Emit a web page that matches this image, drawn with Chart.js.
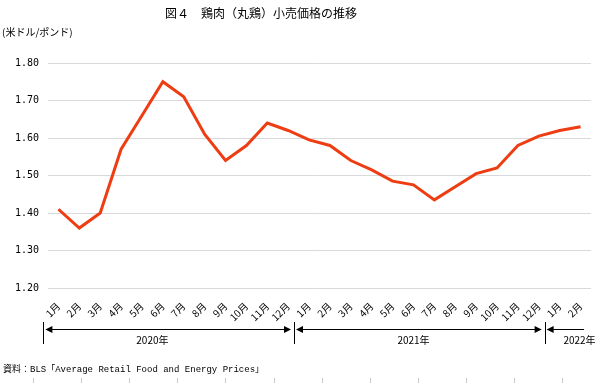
<!DOCTYPE html>
<html lang="ja">
<head>
<meta charset="utf-8">
<title>図4 鶏肉（丸鶏）小売価格の推移</title>
<script src="https://cdn.jsdelivr.net/npm/chart.js@4/dist/chart.umd.min.js"></script>
<style>
  html, body { margin: 0; padding: 0; background: #fff; }
  #wrap { width: 599px; height: 383px; }
</style>
</head>
<body>
<div id="wrap"><canvas id="priceChart" width="599" height="383"></canvas></div>
<script>
// data
var MONTHS = [
  '1月', '2月', '3月', '4月', '5月', '6月', '7月', '8月', '9月', '10月', '11月', '12月',
  '1月', '2月', '3月', '4月', '5月', '6月', '7月', '8月', '9月', '10月', '11月', '12月',
  '1月', '2月',
]
var PRICES = [
  1.41, 1.36, 1.40, 1.57, 1.66, 1.75, 1.71, 1.61, 1.54, 1.58, 1.64, 1.62,
  1.595, 1.58, 1.54, 1.515, 1.485, 1.475, 1.435, 1.47, 1.505, 1.52, 1.58, 1.605,
  1.62, 1.63,
]
var YEARS = ['2020年', '2021年', '2022年']
var YEAR_MONTHS = [12, 12, 2]
var Y_TICKS = [1.2, 1.3, 1.4, 1.5, 1.6, 1.7, 1.8]

var JP = "'Noto Sans CJK JP', sans-serif"
var MONO = "'DejaVu Sans Mono', monospace"

function arrowHead (ctx, x, y, dir) {
  ctx.beginPath()
  ctx.moveTo(x, y)
  ctx.lineTo(x - dir * 7, y - 3.5)
  ctx.lineTo(x - dir * 7, y + 3.5)
  ctx.closePath()
  ctx.fill()
}

// texts and year brackets
var decorations = {
  id: 'decorations',
  afterDraw: function (chart) {
    var ctx = chart.ctx
    var x = chart.scales.x
    var d = x.getPixelForValue(1) - x.getPixelForValue(0)
    var edge = function (i) { return x.getPixelForValue(i) - d * 0.72 }
    ctx.save()
    ctx.fillStyle = '#000'
    ctx.strokeStyle = '#000'
    ctx.textBaseline = 'middle'

    ctx.font = '12px ' + JP
    ctx.textAlign = 'center'
    ctx.fillText('図４　鶏肉（丸鶏）小売価格の推移', 261, 13)

    ctx.font = '10px ' + JP
    ctx.textAlign = 'left'
    ctx.fillText('(米ドル/ポンド)', 2, 32)

    ctx.font = "9px 'Liberation Mono', 'Noto Sans CJK JP', monospace"
    ctx.fillText('資料：BLS「Average Retail Food and Energy Prices」', 3, 370)

    // year brackets
    var labelAt = [4.5, 17, 24.95]
    var arrowY = 329.5
    var start = 0
    ctx.lineWidth = 1
    ctx.font = '10px ' + JP
    ctx.textAlign = 'center'
    YEARS.forEach(function (year, k) {
      var end = start + YEAR_MONTHS[k]
      var left = edge(start)
      var full = end - start === 12
      var right = full ? edge(end) : chart.chartArea.right - 7
      ctx.beginPath()
      ctx.moveTo(Math.round(left) + 0.5, 322)
      ctx.lineTo(Math.round(left) + 0.5, 344)
      if (k === YEARS.length - 1 && full) {
        ctx.moveTo(Math.round(right) + 0.5, 322)
        ctx.lineTo(Math.round(right) + 0.5, 344)
      }
      ctx.moveTo(left + 3, arrowY)
      ctx.lineTo(full ? right - 4 : right, arrowY)
      ctx.stroke()
      arrowHead(ctx, left + 2, arrowY, -1)
      if (full) arrowHead(ctx, right - 3, arrowY, 1)
      ctx.fillText(year, x.getPixelForValue(labelAt[k]), 340)
      start = end
    })

    // faint ticks cut off at the bottom edge
    ctx.strokeStyle = '#c8c8c8'
    ctx.beginPath()
    for (var i = 0; i < 12; i++) {
      var tx = Math.round(33 + i * 48.1) + 0.5
      ctx.moveTo(tx, 378)
      ctx.lineTo(tx, 383)
    }
    ctx.stroke()
    ctx.restore()
  },
}

var ctx = document.getElementById('priceChart').getContext('2d')
window.priceChart = new Chart(ctx, {
  type: 'line',
  data: {
    labels: MONTHS,
    datasets: [
      {
        label: '鶏肉（丸鶏）小売価格',
        data: PRICES,
        borderColor: '#ee3d12',
        backgroundColor: '#ee3d12',
        borderWidth: 3,
        pointRadius: 0,
        tension: 0,
      },
    ],
  },
  options: {
    responsive: false,
    animation: false,
    layout: { padding: { top: 63, right: 8, left: 0, bottom: 0 } },
    plugins: {
      legend: { display: false },
      title: { display: false },
      tooltip: { enabled: false },
    },
    scales: {
      x: {
        offset: true,
        grid: { display: false },
        border: { display: false },
        ticks: {
          color: '#000',
          font: { family: JP, size: 10 },
          maxRotation: 45,
          minRotation: 45,
          autoSkip: false,
          padding: 4,
        },
        afterFit: function (scale) { scale.height = 95 },
      },
      y: {
        min: 1.2,
        max: 1.8,
        afterBuildTicks: function (scale) {
          scale.ticks = Y_TICKS.map(function (v) { return { value: v } })
        },
        grid: { color: '#d9d9d9', lineWidth: 1, drawTicks: false },
        border: { display: false },
        ticks: {
          color: '#000',
          font: { family: MONO, size: 10 },
          padding: 9,
          callback: function (v) { return v.toFixed(2) },
        },
        afterFit: function (scale) { scale.width = 48 },
      },
    },
  },
  plugins: [decorations],
})
</script>
</body>
</html>
